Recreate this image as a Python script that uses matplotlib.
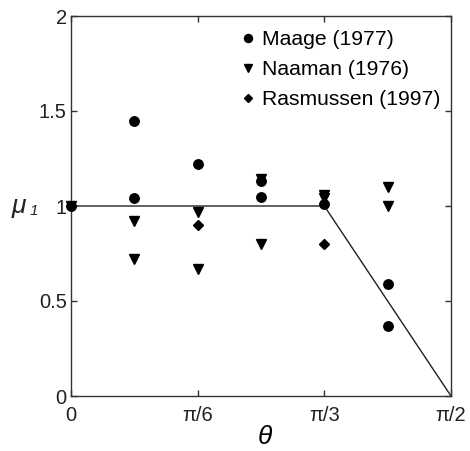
import numpy as np
import matplotlib
matplotlib.use('Agg')
import matplotlib.pyplot as plt

plt.rcParams['font.family'] = ['Liberation Sans', 'DejaVu Sans']
plt.rcParams['mathtext.fontset'] = 'custom'
plt.rcParams['mathtext.it'] = 'Liberation Sans:italic'
plt.rcParams['mathtext.rm'] = 'Liberation Sans'

# angle positions in units of pi
maage_x = [0, 1/12, 1/12, 1/6, 1/4, 1/4, 1/3, 5/12, 5/12]
maage_y = [1.0, 1.45, 1.04, 1.22, 1.13, 1.05, 1.01, 0.59, 0.37]

naaman_x = [0, 1/12, 1/12, 1/6, 1/6, 1/4, 1/4, 1/3, 1/3, 5/12, 5/12]
naaman_y = [1.0, 0.92, 0.72, 0.97, 0.67, 1.14, 0.80, 1.06, 1.04, 1.10, 1.0]

rasm_x = [1/6, 1/3]
rasm_y = [0.90, 0.80]

model_x = [0, 1/3, 1/2]
model_y = [1.0, 1.0, 0.0]

xticks = [0, 1/6, 1/3, 1/2]
xticklabels = ['0', '\u03c0/6', '\u03c0/3', '\u03c0/2']
yticks = [0, 0.5, 1, 1.5, 2]
yticklabels = ['0', '0.5', '1', '1.5', '2']

fig = plt.figure(figsize=(4.70, 4.51), dpi=100)
ax = fig.add_axes([71/470, 55/451, 380/470, 380/451])

pi = np.pi
ax.plot(np.array(model_x) * pi, model_y, color='#222222', lw=1.0, zorder=1)
ax.plot(np.array(maage_x) * pi, maage_y, 'o', color='black', ms=6.8,
        ls='none', label='Maage (1977)', clip_on=False, zorder=3)
ax.plot(np.array(naaman_x) * pi, naaman_y, 'v', color='black', ms=6.8,
        ls='none', label='Naaman (1976)', clip_on=False, zorder=3)
ax.plot(np.array(rasm_x) * pi, rasm_y, 'D', color='black', ms=5,
        ls='none', label='Rasmussen (1997)', clip_on=False, zorder=3)

ax.set_xlim(0, pi / 2)
ax.set_ylim(0, 2)
ax.set_xticks(np.array(xticks) * pi)
ax.set_xticklabels(xticklabels)
ax.set_yticks(yticks)
ax.set_yticklabels(yticklabels)

ax.tick_params(direction='in', top=True, right=True, length=4, width=1,
               color='#333333', labelsize=14.5, labelcolor='#222222')
ax.tick_params(axis='x', pad=7)
ax.tick_params(axis='y', pad=3)
for sp in ax.spines.values():
    sp.set_color('#333333')
    sp.set_linewidth(1.0)

ax.set_xlabel(r'$\theta$', fontsize=19)
ax.xaxis.set_label_coords(0.51, -0.075)

# mu with an italic subscript 1, placed by hand
ax.text(-0.138, 0.5, '\u03bc', transform=ax.transAxes, fontsize=19,
        style='italic', ha='center', va='center', color='#222222')
ax.text(-0.098, 0.488, '1', transform=ax.transAxes, fontsize=11,
        style='italic', ha='center', va='center', color='#222222')

ax.legend(loc='upper right', frameon=False, fontsize=15.2, handletextpad=0.05,
          borderaxespad=0.1, labelspacing=0.52, handlelength=1.2,
          markerscale=0.85, bbox_to_anchor=(1.0, 0.99))

fig.savefig('out.png', dpi=100)
